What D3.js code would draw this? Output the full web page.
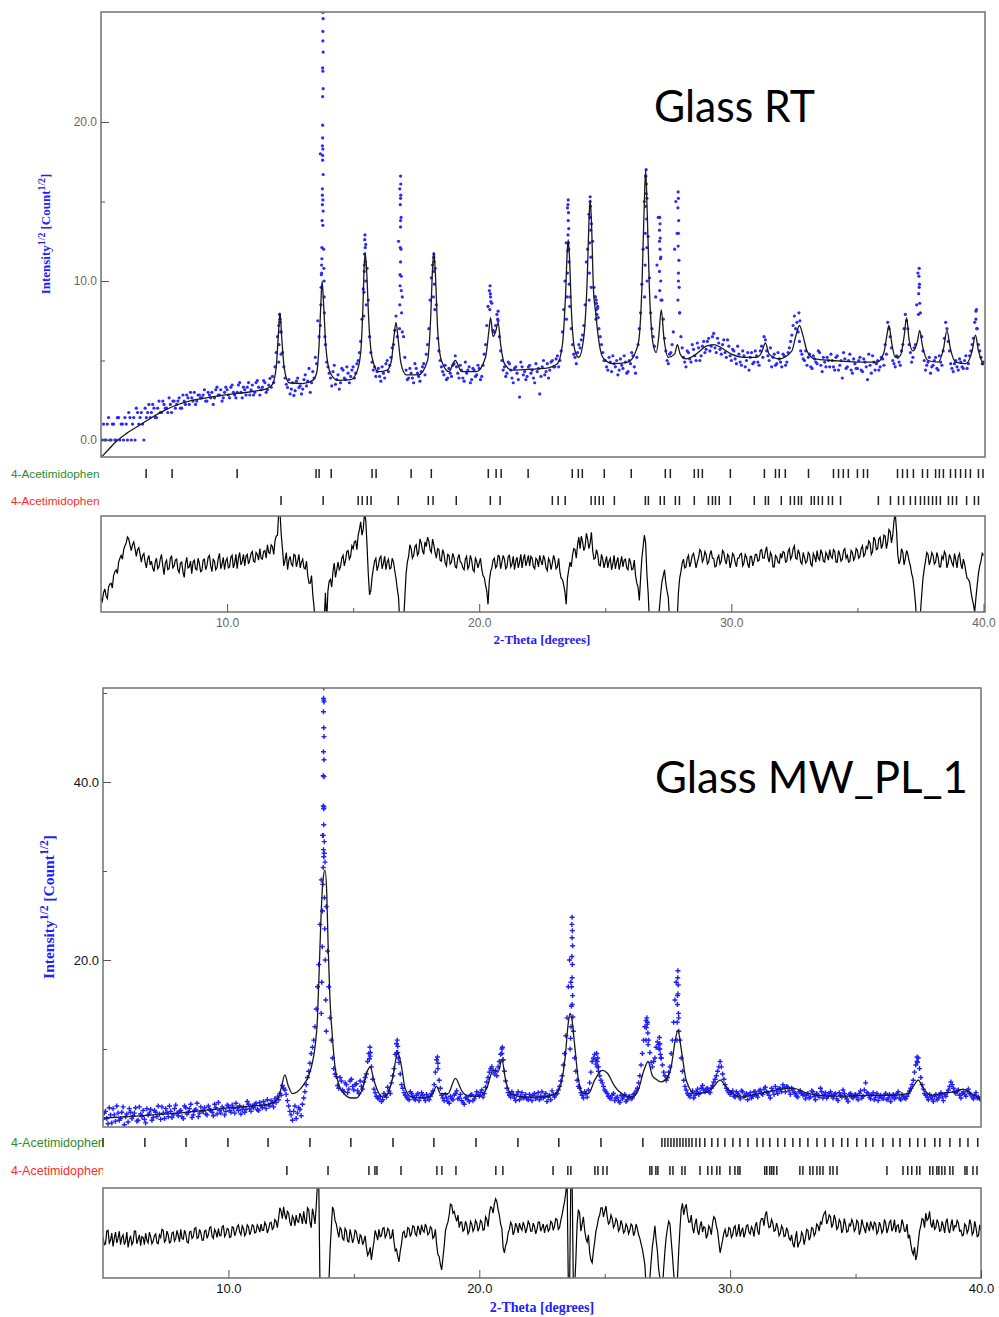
<!DOCTYPE html>
<html lang="en">
<head>
<meta charset="utf-8">
<title>Glass RT / Glass MW_PL_1 - Rietveld plots</title>
<style>
  body { margin: 0; background: #fff; }
  svg { display: block; }
</style>
</head>
<body>
<div id="chart"></div>
<script src="https://d3js.org/d3.v7.min.js"></script>
<script>
// observed patterns: first array on 5.00, 5.10 ... 40.00, second array on 5.05, 5.15 ... 39.95
var thetaStart = 5, thetaStep = 0.1, halfStep = 0.05

// ---------------- Glass RT ----------------
var obsRT = [
  0, 1, 0, 1.41, 0, 1, 0, 1.41, 1, 0,
  1, 1.73, 0, 1.41, 2, 1, 1.73, 0, 1.41, 2.24,
  1.73, 2, 1.41, 2.45, 1.73, 2.24, 2, 2.65, 1.73, 2.45,
  2.24, 2.65, 2, 2.45, 2.83, 2.24, 2.65, 3, 2.45, 2.83,
  2.65, 3.16, 2.45, 2.83, 3, 2.65, 3.32, 2.83, 2.45, 3,
  3.16, 2.65, 3.46, 2.83, 3, 3.61, 2.65, 3.16, 3.32, 2.83,
  3.46, 3, 3.74, 2.83, 3.32, 3.61, 3.16, 3.87, 4.0, 4.6,
  6.5, 7.6, 5.5, 3.9, 3.3, 2.9, 3.6, 3.1, 3.9, 3.4,
  3.2, 4.1, 3.7, 3.0, 4.3, 5.2, 7.5, 18.0, 13.5, 6.0,
  4.6, 3.9, 4.3, 3.5, 4.1, 3.6, 4.4, 3.8, 4.2, 4.0,
  4.6, 4.2, 5.0, 6.2, 9.5, 12.3, 8.8, 5.5, 4.4, 4.0,
  4.5, 3.7, 4.2, 4.8, 4.3, 5.2, 6.0, 7.8, 12.5, 14.0,
  6.5, 4.4, 3.9, 4.2, 3.6, 4.5, 4.0, 4.3, 4.8, 5.4,
  7.0, 10.2, 11.5, 8.5, 5.6, 4.6, 4.1, 3.8, 4.5, 4.0,
  4.8, 4.6, 3.9, 4.4, 3.7, 4.2, 4.6, 3.8, 4.4, 4.1,
  4.5, 4.0, 5.4, 7.2, 9.4, 8.6, 6.8, 7.9, 6.5, 5.0,
  4.6, 4.2, 4.8, 3.9, 4.5, 4.2, 2.7, 4.6, 4.3, 4.0,
  4.7, 4.4, 3.6, 4.3, 2.9, 4.6, 4.1, 4.8, 4.4, 5.0,
  4.6, 5.3, 5.0, 6.8, 10.0, 14.6, 9.0, 6.0, 5.2, 5.5,
  5.8, 6.6, 8.5, 12.0, 15.0, 12.5, 9.0, 8.4, 6.5, 5.5,
  5.0, 4.4, 4.9, 5.3, 4.6, 4.1, 5.1, 4.5, 4.9, 4.3,
  4.8, 5.3, 4.2, 6.0, 8.0, 12.0, 16.6, 12.8, 8.0, 6.5,
  9.0, 14.0, 11.5, 7.6, 5.6, 4.8, 5.5, 6.8, 15.0, 10.0,
  6.5, 5.2, 4.6, 5.5, 4.9, 5.7, 5.0, 5.8, 5.3, 6.2,
  5.7, 6.4, 5.9, 6.7, 5.5, 6.1, 5.4, 6.3, 5.2, 5.9,
  5.0, 5.6, 4.8, 5.4, 4.7, 5.3, 5.0, 4.4, 5.5, 4.9,
  5.3, 4.7, 5.9, 6.5, 5.6, 5.0, 4.6, 5.4, 4.8, 5.1,
  4.6, 5.3, 4.9, 5.8, 6.6, 7.8, 7.4, 6.2, 5.4, 5.0,
  4.7, 5.4, 4.5, 5.1, 4.8, 5.5, 4.3, 4.9, 5.2, 4.6,
  5.0, 4.4, 5.3, 4.7, 3.9, 5.1, 4.6, 5.4, 4.2, 4.8,
  4.5, 5.2, 4.3, 4.9, 3.8, 4.7, 5.3, 4.4, 5.0, 4.6,
  5.1, 6.0, 7.4, 6.5, 5.0, 4.6, 5.2, 4.7, 6.0, 7.9,
  7.0, 5.5, 5.2, 6.0, 10.5, 8.0, 5.6, 4.4, 4.9, 4.2,
  4.7, 5.2, 4.4, 4.9, 5.6, 7.4, 6.2, 4.8, 4.3, 5.0,
  4.4, 4.9, 4.5, 5.3, 4.8, 5.6, 6.4, 8.1, 6.0, 5.2,
  4.9
]
var obsRT2 = [
  0, 0, 1, 0, 1, 0, 1.41, 0, 1, 1.41,
  0, 1.41, 1, 0, 1.73, 1.41, 1, 2, 1.73, 1.41,
  2.24, 1.41, 2, 1.73, 2.45, 2, 1.73, 2.24, 2.45, 2,
  2.45, 2, 2.83, 2.24, 2.65, 3, 2.45, 2.24, 2.83, 2.65,
  2.83, 2.45, 3, 2.65, 2.24, 3.16, 2.83, 3.16, 2.65, 3.32,
  2.83, 3.32, 3, 2.65, 3.46, 3, 3.32, 2.83, 3.61, 3.16,
  2.83, 3.61, 3.32, 3.16, 3.74, 3, 3.46, 3.32, 3.61, 5.5,
  7.2, 6.8, 4.6, 3.5, 3.8, 3.2, 2.8, 3.7, 3.3, 2.9,
  3.8, 3.4, 4.5, 3.6, 3.9, 4.8, 6.5, 10.5, 9.0, 4.9,
  4.2, 3.4, 4.7, 3.8, 3.2, 4.5, 3.9, 4.6, 3.6, 4.4,
  3.9, 4.8, 5.5, 7.6, 11.0, 10.8, 6.5, 4.9, 4.6, 4.3,
  4.0, 4.6, 3.9, 5.0, 4.7, 5.8, 6.9, 6.5, 15.8, 9.0,
  5.2, 3.8, 4.5, 3.9, 4.8, 4.2, 3.7, 4.6, 4.1, 6.0,
  8.8, 11.0, 10.8, 6.4, 5.0, 4.3, 4.7, 3.9, 4.2, 4.7,
  5.3, 4.2, 4.7, 3.9, 4.9, 4.4, 3.6, 4.5, 4.0, 4.7,
  3.8, 4.7, 6.0, 8.4, 9.0, 6.9, 7.2, 7.5, 5.6, 4.4,
  4.0, 4.9, 4.4, 3.6, 4.6, 3.8, 4.9, 4.1, 3.8, 4.6,
  4.2, 3.9, 4.8, 4.5, 4.0, 5.0, 4.3, 3.9, 4.9, 4.6,
  5.1, 4.6, 5.6, 8.2, 12.4, 12.0, 7.0, 5.4, 4.8, 6.0,
  6.3, 7.2, 11.2, 14.2, 13.6, 9.6, 8.6, 7.0, 6.0, 5.0,
  4.6, 5.2, 4.3, 4.8, 5.0, 4.4, 4.7, 5.3, 4.2, 5.0,
  5.5, 4.6, 5.2, 7.0, 9.8, 15.0, 15.2, 10.2, 7.0, 5.9,
  11.0, 12.5, 8.8, 6.4, 5.0, 5.4, 6.0, 12.0, 13.0, 8.0,
  5.8, 4.9, 5.6, 5.1, 6.0, 5.3, 6.1, 5.0, 5.9, 5.5,
  6.2, 5.6, 6.5, 5.8, 6.4, 5.7, 6.0, 5.5, 6.3, 5.3,
  5.7, 5.1, 5.9, 4.9, 5.6, 4.6, 5.5, 5.2, 4.8, 5.6,
  4.9, 5.6, 5.2, 6.3, 5.3, 5.8, 5.2, 4.7, 5.5, 4.9,
  5.4, 4.7, 5.5, 6.2, 7.2, 7.0, 6.8, 5.6, 5.1, 5.6,
  5.2, 4.6, 5.3, 4.9, 5.6, 4.7, 5.2, 4.6, 5.0, 5.4,
  4.6, 5.2, 4.4, 5.0, 5.5, 4.5, 5.0, 4.4, 5.1, 4.5,
  5.0, 4.4, 5.1, 4.6, 5.4, 4.2, 4.9, 4.8, 4.4, 5.2,
  4.7, 5.4, 7.0, 5.8, 4.8, 5.3, 4.9, 5.6, 7.0, 7.5,
  6.0, 4.9, 5.8, 8.5, 9.6, 6.5, 5.0, 4.7, 5.2, 4.6,
  5.0, 4.5, 5.3, 4.7, 6.4, 7.0, 5.6, 4.5, 4.8, 4.6,
  5.1, 4.6, 5.0, 4.5, 5.3, 6.0, 7.4, 7.0, 5.6, 4.8
]

// extra observed points on the steep peak flanks [2theta, value]
var peakPtsRT = [
  [12.08, 7.9], [12.1, 7.4], [12.12, 6.8], [12.06, 6.0], [12.14, 5.4], [12.05, 4.9],
  [13.80, 26.9], [13.81, 26.5], [13.80, 25.7], [13.80, 25.1], [13.81, 24.4], [13.79, 23.4], [13.80, 23.2],
  [13.81, 22.1], [13.79, 21.6], [13.79, 19.8], [13.79, 19.0], [13.78, 18.5], [13.80, 18.3], [13.79, 17.9],
  [13.79, 17.6], [13.81, 16.7], [13.78, 15.8], [13.78, 15.4], [13.80, 15.1], [13.78, 14.8], [13.81, 14.4],
  [13.77, 13.8], [13.76, 12.1], [13.83, 12.0], [13.76, 11.4], [13.75, 11.0], [13.84, 10.8], [13.74, 10.4],
  [13.85, 10.0], [13.73, 9.6], [13.72, 8.5], [13.86, 8.0], [13.70, 7.2], [13.88, 6.5],
  [15.47, 12.9], [15.46, 12.6], [15.48, 12.1], [15.45, 11.7], [15.49, 11.2], [15.44, 10.6], [15.5, 10.0],
  [15.43, 9.3], [15.52, 8.5], [15.42, 7.8],
  [16.88, 16.6], [16.89, 16.1], [16.89, 15.4], [16.88, 15.2], [16.87, 14.8], [16.88, 13.8], [16.88, 13.4],
  [16.87, 12.1], [16.90, 12.0], [16.88, 11.2], [16.86, 10.4], [16.91, 10.3], [16.86, 9.7], [16.91, 9.4],
  [16.85, 8.5], [16.92, 8.0], [16.84, 7.0], [16.95, 6.8],
  [18.2, 11.7], [18.21, 11.2], [18.19, 10.6], [18.22, 9.8], [18.18, 9.0], [18.24, 8.2],
  [20.43, 9.7], [20.44, 9.2], [20.46, 8.7], [20.42, 8.2], [20.75, 8.1], [20.73, 7.6],
  [23.53, 15.1], [23.52, 14.8], [23.54, 14.3], [23.53, 13.8], [23.55, 13.3], [23.52, 12.9], [23.54, 12.4],
  [23.51, 11.9], [23.56, 11.2], [23.5, 10.5], [23.57, 9.8], [23.48, 9.0], [23.59, 8.4], [23.46, 7.6],
  [24.4, 15.3], [24.41, 14.7], [24.39, 14.0], [24.42, 13.2], [24.38, 12.4], [24.43, 11.5], [24.37, 10.5],
  [24.44, 9.6], [24.36, 8.8],
  [24.6, 9.0], [24.62, 8.6], [24.64, 8.8], [24.65, 8.2], [24.67, 7.9], [24.63, 7.6], [24.7, 8.3], [24.72, 7.7],
  [26.62, 17.0], [26.61, 16.6], [26.63, 16.1], [26.62, 15.5], [26.6, 14.7], [26.64, 13.9], [26.59, 13.0],
  [26.65, 12.1], [26.58, 11.0], [26.66, 10.0], [26.56, 9.0],
  [27.16, 14.0], [27.17, 13.6], [27.15, 13.2], [27.18, 12.7], [27.17, 12.0], [27.19, 11.4], [27.15, 10.6],
  [27.2, 10.0], [27.16, 9.4], [27.21, 8.8],
  [27.89, 15.6], [27.9, 15.2], [27.88, 14.6], [27.91, 13.8], [27.9, 13.0], [27.89, 12.2], [27.92, 11.3],
  [27.9, 10.5], [27.93, 9.6], [27.88, 8.8], [27.95, 8.0],
  [32.68, 8.0], [32.72, 7.5],
  [37.45, 10.8], [37.44, 10.3], [37.46, 9.8], [37.43, 9.2], [37.47, 8.6], [37.42, 7.9],
  [39.72, 8.2], [39.7, 7.6], [39.73, 7.0]
]

// calculated profile [2theta, value]
var calcRT = [
  [5.0, -1.1], [5.3, -0.6], [5.6, -0.1], [6.0, 0.4], [6.5, 0.9], [7.0, 1.4], [7.5, 1.85], [8.0, 2.2],
  [8.5, 2.45], [9.0, 2.6], [10.0, 2.85], [11.0, 3.05], [11.6, 3.25],
  [11.8, 3.5], [11.95, 4.6], [12.03, 6.5], [12.1, 8.0], [12.17, 6.4], [12.27, 4.5], [12.45, 3.6],
  [13.0, 3.55], [13.4, 3.75],
  [13.55, 4.2], [13.65, 6.0], [13.72, 8.6], [13.77, 10.0], [13.83, 8.5], [13.92, 5.8], [14.1, 4.2], [14.4, 3.75],
  [14.9, 3.8], [15.15, 4.3],
  [15.3, 5.5], [15.38, 8.0], [15.44, 11.0], [15.48, 11.8], [15.54, 10.5], [15.62, 7.5], [15.75, 5.2], [16.0, 4.3],
  [16.35, 4.4],
  [16.52, 5.0], [16.62, 6.5], [16.7, 7.4], [16.78, 6.4], [16.9, 4.8], [17.1, 4.1],
  [17.6, 4.1],
  [17.95, 5.0], [18.07, 7.5], [18.15, 10.8], [18.2, 11.8], [18.26, 10.5], [18.35, 7.0], [18.5, 5.0], [18.8, 4.3],
  [19.05, 5.0], [19.3, 4.3], [19.9, 4.3],
  [20.25, 5.2], [20.38, 6.8], [20.45, 7.7], [20.55, 6.5], [20.65, 6.8], [20.75, 7.4], [20.85, 6.0], [21.0, 4.8],
  [21.3, 4.4], [22.0, 4.45], [22.6, 4.5], [23.1, 4.8],
  [23.3, 6.0], [23.42, 9.0], [23.49, 11.8], [23.53, 12.6], [23.58, 11.5], [23.66, 8.0], [23.8, 5.6], [23.95, 5.2],
  [24.15, 6.5], [24.28, 10.0], [24.36, 14.0], [24.4, 15.1], [24.45, 13.8], [24.53, 9.5], [24.62, 8.0],
  [24.72, 6.5], [24.9, 5.2], [25.3, 4.8], [25.9, 4.9],
  [26.3, 6.0], [26.45, 9.5], [26.54, 14.5], [26.6, 17.0], [26.66, 14.5], [26.75, 9.5], [26.9, 6.0], [27.02, 5.5],
  [27.12, 6.5], [27.22, 8.2], [27.32, 6.5], [27.5, 5.2],
  [27.75, 5.4], [27.86, 6.0], [27.97, 5.4], [28.2, 5.1],
  [28.6, 5.4], [29.0, 5.9], [29.3, 6.0], [29.6, 5.8], [30.0, 5.4], [30.5, 5.2], [31.0, 5.2],
  [31.2, 5.5], [31.35, 6.1], [31.5, 5.4], [31.9, 5.1],
  [32.4, 5.6], [32.55, 6.5], [32.7, 7.2], [32.85, 6.5], [33.0, 5.6], [33.3, 5.1],
  [34.0, 5.0], [35.0, 4.9], [35.8, 4.9],
  [36.05, 5.5], [36.17, 6.6], [36.25, 7.2], [36.35, 6.2], [36.5, 5.2], [36.7, 5.3],
  [36.85, 6.5], [36.95, 7.7], [37.05, 6.3], [37.2, 5.6],
  [37.38, 6.2], [37.47, 6.9], [37.57, 6.0], [37.8, 5.0], [38.2, 4.9],
  [38.42, 5.8], [38.55, 6.9], [38.68, 5.8], [38.9, 4.9], [39.3, 4.8],
  [39.55, 5.6], [39.68, 6.6], [39.8, 5.6], [40.0, 4.7]
]

// difference curve, same two 2theta grids as the observed arrays
var diffRT = [
  -3.6, -3.0, -3.3, -2.4, -2.0, -1.2, -0.6, 0.2, 0.9, 1.5,
  2.2, 2.6, 1.4, 2.3, 0.8, 1.7, 0.2, 1.1, -0.4, 0.9,
  0.3, -0.8, 0.6, -0.3, 1.0, -1.1, 0.4, -0.5, 0.8, -0.2,
  0.5, -0.9, 0.2, -1.4, 0.7, -0.3, -1.0, 0.4, -0.6, 0.1,
  -0.7, 0.5, -0.2, 0.9, -0.8, 0.3, -0.4, 1.1, 0.0, -0.6,
  0.6, -0.3, 0.9, 0.1, -0.5, 1.2, 0.3, -0.2, 1.0, 0.4,
  1.3, 0.2, 1.0, 1.6, 0.5, 1.4, 2.0, 1.1, 1.8, 2.4,
  3.0, 5.3, 1.5, 0.4, -0.6, 0.8, -0.2, 0.9, 0.3, -0.4,
  0.5, -0.5, -1.2, -2.0, -3.2, -6.0, -6.0, -6.0, -6.0, -3.0,
  -2.8, -1.6, -0.8, -1.4, 0.2, -0.3, 0.9, 0.4, 1.4, 0.8,
  1.6, 2.4, 3.0, 4.4, 3.6, 4.6, -1.0, -2.8, -0.5, 0.6,
  -0.2, 0.8, 0.1, -0.6, 0.5, -0.4, 0.2, -1.5, -3.5, -6.0,
  -6.0, -1.0, 0.8, 1.6, 0.9, 2.0, 1.2, 2.2, 1.0, 1.8,
  2.4, 1.2, 2.0, 0.6, 1.5, 0.3, 1.1, -0.2, 0.9, 0.2,
  0.7, -0.4, 1.0, 0.1, -0.6, 0.8, -0.2, 0.4, -0.8, 0.3,
  0.1, -0.5, -1.4, -2.8, -1.8, -0.4, 0.6, -0.2, 0.8, 0.2,
  0.5, -0.3, 0.9, 0.0, -0.6, 0.7, 0.2, -0.4, 1.0, 0.3,
  -0.2, 0.6, -0.5, 0.4, 0.9, -0.1, 0.5, -0.7, 0.3, 0.1,
  0.4, -0.3, -0.8, -1.6, -2.9, -1.5, 0.2, 0.9, 1.5, 2.0,
  1.6, 2.3, 1.8, 2.6, 2.2, 1.4, 0.6, 1.0, -0.2, 0.5,
  0.2, -0.4, 0.6, 0.0, -0.5, 0.7, 0.1, -0.3, 0.5, -0.6,
  0.2, -0.5, -1.2, -2.4, -1.5, 1.8, 2.2, -3.0, -6.0, -6.0,
  -6.0, -6.0, -3.0, -1.2, -2.0, -3.5, -6.0, -6.0, -6.0, -3.0,
  -0.8, 0.5, -0.3, 0.9, 0.2, 1.1, -0.4, 0.7, 1.3, 0.5,
  1.0, 0.2, 1.4, 0.6, -0.2, 0.9, 0.3, 1.2, 0.0, 0.8,
  0.2, 0.9, -0.3, 0.6, 1.1, 0.1, 0.7, -0.4, 0.8, 0.3,
  1.0, 0.4, 1.5, 0.6, 1.8, 0.2, 0.9, -0.3, 0.7, 0.1,
  0.6, 1.2, 0.3, 1.6, 0.8, 1.9, 0.5, 1.1, 0.0, 0.7,
  0.3, 1.0, -0.2, 0.8, 1.4, 0.4, 1.1, 0.2, 0.9, 1.5,
  0.6, 1.3, 0.2, 1.0, 0.5, 1.6, 0.9, 0.3, 1.2, 0.7,
  1.4, 0.8, 1.9, 1.0, 1.6, 2.2, 1.3, 2.5, 1.6, 2.8,
  2.0, 2.9, 2.3, 3.4, 3.0, 5.3, 1.0, 0.4, 1.2, 0.6,
  1.0, -0.2, -1.5, -4.0, -6.0, -5.0, -1.5, 0.3, 1.0, 0.4,
  0.9, 0.2, 0.7, -0.3, 0.5, 1.0, 0.1, 0.6, -0.2, 0.4,
  0.8, 0.0, 0.5, -0.8, -1.6, -2.8, -4.2, -3.5, -1.0, 0.3,
  0.9
]
var diffRT2 = [
  -3.9, -2.6, -3.6, -2.1, -2.5, -0.8, -1.0, 0.6, 0.5, 1.9,
  2.8, 2.0, 2.0, 1.6, 1.5, 1.0, 0.9, 0.2, 0.5, -0.1,
  -0.4, 0.2, -0.5, 0.5, -0.2, 0.1, -0.6, 0.6, -0.4, 0.4,
  -0.6, 0.1, -0.8, 0.0, -0.4, 0.3, 0.2, -0.5, 0.6, -0.8,
  0.4, -0.6, 0.7, -0.2, 0.5, -0.6, 0.6, -0.5, 0.7, 0.3,
  -0.4, 0.7, -0.4, 1.0, 0.6, -0.1, 1.0, 0.8, 0.0, 1.1,
  0.3, 1.2, 0.4, 0.6, 1.3, 0.6, 1.2, 2.0, 1.0, 2.9,
  5.5, 3.0, -0.2, 1.2, 0.4, 0.0, 1.0, -0.3, 1.0, 0.2,
  -0.4, 0.3, -2.0, -1.2, -4.5, -6.0, -6.0, -6.0, -6.0, -6.0,
  -1.8, -2.4, 0.1, -0.6, -0.6, 0.6, -0.2, 1.3, 0.5, 1.9,
  2.3, 1.5, 3.6, 3.0, 5.3, 2.0, -3.2, -1.4, 0.3, -0.7,
  0.6, -0.5, 0.8, 0.2, -0.5, 0.6, -0.7, -2.6, -6.0, -6.0,
  -3.5, 0.2, 2.0, 0.6, 1.8, 0.9, 2.6, 1.4, 2.3, 2.8,
  1.5, 2.6, 1.2, 1.6, 0.4, 1.5, 0.1, 1.0, 0.0, 1.1,
  -0.3, 0.6, 0.2, -0.4, 0.5, -0.5, 0.9, -0.6, 0.6, -0.4,
  0.6, -1.2, -2.2, -4.2, -0.8, 0.4, -0.4, 0.9, -0.5, 0.9,
  -0.5, 0.8, -0.3, 0.8, 0.3, -0.4, 1.0, 0.5, -0.2, 0.9,
  0.8, -0.3, 0.6, -0.3, 0.3, 0.9, -0.4, 0.6, -0.6, 0.9,
  -0.5, 0.6, -1.5, -2.2, -4.2, -0.6, -0.3, 1.6, 0.6, 2.8,
  2.9, 1.4, 3.2, 1.6, 3.3, 0.5, 1.5, -0.1, 1.0, -0.4,
  0.8, 0.3, -0.6, 0.9, 0.2, -0.6, 0.8, 0.4, -0.4, 0.6,
  -0.6, 0.4, -2.0, -3.8, 0.6, 3.0, -1.0, -6.0, -6.0, -6.0,
  -6.0, -4.5, -1.8, -0.6, -2.8, -6.0, -6.0, -6.0, -6.0, -1.5,
  0.1, -0.4, 0.6, -0.3, 0.9, 0.4, 0.2, 1.5, 0.2, 1.3,
  0.0, 1.0, 0.6, -0.3, 0.6, 0.0, 1.4, 0.4, 1.0, -0.4,
  1.1, 0.2, 0.6, 1.0, -0.2, 1.0, 0.0, 0.8, -0.2, 1.0,
  0.3, 1.4, 0.6, 1.3, 0.7, 1.2, -0.3, 0.9, 0.2, 1.1,
  1.3, 0.2, 1.3, 0.5, 1.6, 0.6, 1.5, 0.2, 1.2, 0.1,
  1.2, 0.0, 1.1, 0.2, 0.6, 1.5, 0.3, 1.2, 0.4, 0.8,
  1.5, 0.2, 1.4, 0.3, 1.4, 0.6, 0.2, 1.4, 0.4, 1.6,
  0.6, 1.6, 0.8, 1.8, 2.4, 1.0, 2.8, 1.5, 2.6, 1.6,
  3.0, 1.6, 3.6, 2.2, 4.5, 3.5, 0.0, 1.6, -0.1, 1.4,
  0.3, -1.0, -2.6, -6.0, -6.0, -3.2, -0.5, 1.2, -0.1, 1.2,
  0.0, 1.2, -0.3, 0.8, 1.3, -0.4, 1.0, 0.1, 1.1, -0.4,
  1.1, -0.5, 0.0, -1.5, -1.9, -3.6, -5.0, -2.2, -0.2, 1.1
]

// reflection positions of the two phases
var phaseGreenRT = [6.79, 7.82, 10.40, 13.53, 13.65, 14.13, 15.75, 15.91, 17.30, 18.10, 20.36, 20.67, 20.87,
  21.94, 23.69, 23.93, 24.09, 24.96, 26.03, 27.38, 27.58, 28.53, 28.69, 28.85, 29.96, 31.31, 31.75, 31.90,
  32.14, 33.06, 34.05, 34.25, 34.44, 34.64, 35.00, 35.24, 35.40, 36.59, 36.79, 36.98, 37.22, 37.58, 37.78,
  38.10, 38.25, 38.41, 38.69, 38.89, 39.09, 39.29, 39.48, 39.80, 39.98]
var phaseRedRT = [12.14, 13.81, 15.20, 15.36, 15.56, 15.71, 16.79, 17.98, 18.17, 19.09, 20.44, 20.83, 22.90,
  23.13, 23.41, 24.44, 24.60, 24.76, 24.92, 25.36, 26.59, 26.71, 27.18, 27.34, 27.78, 27.94, 28.53, 29.09,
  29.25, 29.37, 29.52, 29.96, 30.91, 31.35, 31.47, 31.98, 32.34, 32.50, 32.66, 32.78, 33.17, 33.29, 33.45,
  33.61, 33.85, 34.01, 34.33, 35.83, 36.31, 36.63, 36.83, 37.10, 37.30, 37.50, 37.66, 37.82, 37.98, 38.13,
  38.29, 38.61, 38.77, 38.93, 39.33, 39.64, 39.80]

// ---------------- Glass MW_PL_1 ----------------
var obsMW = [
  2.1, 3.0, 1.6, 2.6, 3.3, 1.9, 2.8, 2.2, 3.5, 2.4,
  1.8, 2.9, 2.5, 3.4, 2.0, 2.7, 3.1, 1.7, 2.6, 3.2,
  2.3, 2.9, 3.6, 2.1, 2.8, 3.3, 2.4, 3.0, 2.6, 3.7,
  2.5, 3.1, 2.2, 3.4, 2.9, 3.8, 2.6, 3.2, 2.4, 3.5,
  3.0, 2.7, 3.6, 3.1, 2.5, 3.4, 4.0, 2.8, 3.3, 3.0,
  3.6, 2.9, 3.3, 3.9, 3.1, 2.7, 3.5, 3.2, 3.8, 3.0,
  3.4, 3.9, 3.1, 3.6, 4.1, 3.3, 3.7, 4.2, 3.5, 4.0,
  4.3, 4.8, 5.6, 4.9, 3.6, 2.6, 3.0, 2.2, 3.4, 2.5,
  4.5, 6.0, 7.5, 9.5, 11.0, 14.5, 19.5, 29.0, 37.0, 26.0,
  17.0, 11.0, 7.8, 6.9, 5.6, 6.4, 5.2, 6.0, 5.5, 6.6,
  5.4, 6.1, 5.0, 5.8, 6.3, 7.2, 9.5, 8.0, 5.5, 4.7,
  4.4, 4.1, 5.0, 4.6, 5.3, 6.2, 7.8, 10.6, 8.5, 6.0,
  5.1, 4.6, 4.3, 5.0, 4.4, 4.8, 4.2, 5.1, 4.5, 4.9,
  4.3, 5.0, 6.0, 8.8, 6.5, 4.8, 4.2, 4.5, 3.9, 4.4,
  4.8, 5.3, 4.5, 4.2, 3.8, 4.6, 4.1, 4.9, 4.4, 5.2,
  4.7, 5.4, 5.0, 6.3, 7.4, 8.0, 7.2, 7.0, 8.6, 10.0,
  7.5, 5.6, 4.8, 5.2, 4.5, 4.9, 4.3, 5.1, 4.6, 4.4,
  4.9, 4.2, 5.0, 4.6, 4.3, 5.2, 4.7, 4.1, 4.8, 5.3,
  4.6, 5.0, 5.8, 7.0, 9.5, 13.5, 20.0, 15.0, 9.0, 6.5,
  5.6, 4.8, 5.2, 4.6, 6.2, 8.6, 9.4, 8.0, 7.0, 6.2,
  5.4, 5.0, 4.5, 4.8, 4.2, 4.6, 4.0, 4.4, 4.9, 4.3,
  4.7, 4.5, 5.0, 5.6, 7.0, 9.5, 12.5, 12.8, 9.6, 8.0,
  9.0, 10.8, 10.0, 8.2, 7.0, 6.8, 8.0, 11.0, 15.5, 16.0,
  11.0, 7.5, 5.8, 5.0, 4.6, 5.3, 4.8, 5.5, 5.1, 5.9,
  5.2, 5.6, 5.1, 5.9, 6.6, 7.5, 8.6, 7.2, 6.0, 5.3,
  4.9, 5.3, 4.6, 5.0, 4.4, 5.2, 4.8, 4.3, 5.1, 4.7,
  5.2, 4.6, 5.4, 4.9, 5.7, 5.1, 4.5, 5.3, 5.8, 5.0,
  5.5, 6.0, 5.2, 5.7, 4.9, 5.4, 5.0, 4.6, 5.3, 4.8,
  4.4, 5.0, 4.6, 5.2, 4.3, 4.8, 5.6, 4.5, 5.1, 4.7,
  5.2, 4.5, 5.0, 4.2, 4.8, 5.4, 4.6, 4.1, 5.0, 4.5,
  4.9, 4.3, 5.3, 4.7, 6.2, 5.0, 4.4, 5.1, 4.6, 4.2,
  4.8, 4.4, 5.0, 4.5, 4.1, 4.9, 4.6, 5.2, 4.3, 4.7,
  4.4, 5.0, 5.6, 6.5, 8.2, 9.0, 6.8, 5.5, 4.8, 4.3,
  4.6, 4.1, 4.9, 4.5, 5.1, 4.2, 4.7, 5.4, 6.3, 5.6,
  5.0, 5.4, 4.5, 5.2, 4.7, 5.5, 4.9, 4.4, 5.1, 4.6,
  4.3
]
var obsMW2 = [
  2.8, 2.2, 3.4, 1.7, 2.6, 3.6, 2.0, 2.9, 1.5, 2.7,
  3.3, 2.2, 2.8, 1.9, 3.5, 2.4, 2.1, 3.3, 2.8, 2.0,
  3.1, 2.4, 2.7, 3.5, 2.2, 2.9, 3.6, 2.3, 3.3, 2.8,
  3.0, 2.4, 3.6, 2.7, 3.3, 2.3, 3.1, 3.9, 2.8, 3.0,
  3.4, 2.6, 3.2, 2.9, 3.8, 2.7, 3.1, 3.5, 2.6, 3.7,
  3.1, 3.7, 2.8, 3.4, 3.6, 3.2, 2.9, 4.1, 3.3, 3.6,
  3.8, 3.2, 4.0, 3.4, 3.7, 4.3, 3.6, 3.9, 4.4, 4.6,
  5.0, 5.9, 5.4, 4.2, 3.0, 2.0, 3.6, 2.8, 3.2, 3.8,
  5.2, 6.8, 8.4, 10.2, 12.5, 17.0, 24.0, 34.0, 31.0, 21.0,
  13.5, 9.0, 7.2, 5.9, 6.8, 5.4, 6.2, 5.1, 6.4, 5.8,
  6.0, 5.3, 6.4, 5.5, 6.8, 8.6, 9.2, 6.6, 5.1, 4.5,
  4.7, 4.3, 4.8, 5.7, 5.0, 7.0, 9.4, 9.6, 7.2, 5.6,
  4.8, 4.4, 5.2, 4.7, 4.3, 5.0, 4.6, 4.8, 4.2, 4.6,
  4.7, 5.3, 7.4, 7.8, 5.6, 4.5, 4.9, 4.1, 4.7, 4.3,
  5.0, 4.4, 4.9, 4.0, 4.5, 4.3, 4.8, 4.2, 4.7, 4.9,
  5.1, 4.6, 5.7, 6.8, 7.8, 7.6, 7.6, 8.0, 9.4, 8.8,
  6.4, 5.1, 4.6, 4.9, 4.2, 5.2, 4.7, 4.5, 4.9, 4.3,
  4.6, 4.8, 4.4, 5.1, 4.7, 4.5, 5.0, 4.6, 4.3, 4.9,
  4.9, 5.4, 6.4, 8.2, 11.5, 17.0, 17.5, 12.0, 7.5, 5.8,
  5.1, 4.5, 5.0, 5.4, 7.4, 9.0, 8.8, 7.5, 6.5, 5.8,
  5.2, 4.7, 4.4, 5.0, 4.5, 4.2, 4.8, 4.6, 4.1, 4.6,
  4.4, 4.9, 5.3, 6.2, 8.2, 11.0, 13.2, 11.0, 8.5, 8.6,
  10.2, 10.5, 9.0, 7.4, 6.5, 7.4, 9.5, 13.0, 17.5, 13.5,
  9.0, 6.5, 5.4, 4.8, 5.0, 4.5, 5.2, 4.9, 5.6, 5.4,
  5.5, 5.2, 5.6, 6.3, 7.0, 8.0, 8.0, 6.6, 5.6, 5.1,
  5.1, 4.7, 5.2, 4.8, 5.3, 4.6, 5.0, 4.9, 4.5, 5.2,
  4.8, 5.3, 5.0, 5.5, 5.2, 4.8, 5.6, 4.9, 5.3, 5.6,
  5.2, 5.7, 5.8, 5.3, 5.6, 5.1, 4.7, 5.2, 5.0, 4.9,
  4.8, 4.5, 5.3, 4.7, 5.0, 4.6, 5.2, 4.9, 4.5, 5.0,
  4.8, 4.9, 4.4, 5.1, 4.6, 5.0, 4.4, 4.9, 4.6, 4.8,
  4.6, 5.0, 4.5, 5.4, 5.1, 4.6, 4.9, 4.3, 5.0, 4.6,
  4.5, 4.8, 4.3, 4.9, 4.6, 4.4, 5.0, 4.5, 4.9, 4.5,
  4.7, 5.3, 6.0, 7.4, 8.6, 7.8, 6.0, 5.0, 4.6, 4.9,
  4.4, 4.7, 4.3, 4.8, 4.6, 4.9, 5.1, 5.8, 6.0, 5.2,
  5.3, 4.8, 5.0, 4.9, 5.3, 5.0, 4.6, 4.8, 4.5, 4.4
]

var peakPtsMW = [
  [13.8, 50.6], [13.79, 49.4], [13.8, 49.2], [13.81, 49.0], [13.79, 47.9], [13.8, 46.1], [13.81, 45.1],
  [13.79, 43.4], [13.81, 42.5], [13.78, 40.7], [13.81, 40.6], [13.78, 37.3], [13.81, 37.2], [13.8, 35.2],
  [13.78, 34.0], [13.82, 33.3], [13.79, 32.4], [13.82, 32.0], [13.8, 31.6], [13.78, 30.4], [13.76, 28.5],
  [13.83, 27.0], [13.75, 25.5], [13.84, 23.5], [13.74, 21.5], [13.86, 20.0], [13.72, 17.5], [13.88, 15.5],
  [13.7, 14.0], [13.9, 12.0],
  [15.64, 10.2], [15.66, 9.6], [15.62, 8.9],
  [16.73, 11.0], [16.75, 10.3], [16.71, 9.6], [16.77, 9.0],
  [18.33, 9.1], [18.35, 8.4],
  [20.92, 10.2], [20.9, 9.5], [20.94, 8.8],
  [23.7, 24.8], [23.69, 24.0], [23.71, 23.3], [23.7, 22.5], [23.72, 21.6], [23.69, 20.4], [23.71, 19.5],
  [23.7, 18.0], [23.68, 17.0], [23.72, 16.0], [23.67, 14.8], [23.73, 13.6], [23.66, 12.5], [23.64, 11.2],
  [23.62, 10.0],
  [24.68, 9.5], [24.72, 9.0], [24.7, 8.6], [24.75, 8.0], [24.65, 8.3],
  [26.68, 13.5], [26.7, 13.0], [26.66, 12.4], [26.72, 11.8], [26.65, 11.0], [26.73, 10.5],
  [27.18, 11.3], [27.2, 10.6], [27.16, 10.0], [27.22, 9.4], [27.25, 9.0],
  [27.92, 18.8], [27.91, 18.0], [27.93, 17.2], [27.92, 16.2], [27.9, 15.0], [27.94, 14.0], [27.89, 13.0],
  [27.95, 12.0], [27.88, 11.0],
  [37.45, 9.1], [37.47, 8.5]
]

var calcMW = [
  [5.0, 2.25], [6.0, 2.4], [7.0, 2.6], [8.0, 2.8], [9.0, 3.1], [10.0, 3.4], [11.0, 3.6], [11.7, 3.9],
  [12.0, 4.6], [12.12, 5.8], [12.25, 7.1], [12.38, 5.9], [12.55, 5.0], [12.75, 5.2], [13.0, 6.0],
  [13.2, 7.0], [13.35, 8.5], [13.45, 10.2], [13.55, 13.5], [13.62, 19.0], [13.7, 25.5], [13.77, 29.0],
  [13.85, 30.1], [13.92, 27.5], [13.98, 21.0], [14.05, 15.5], [14.14, 11.5], [14.25, 8.0], [14.4, 6.0],
  [14.6, 5.0], [14.9, 4.5], [15.1, 4.5], [15.35, 5.6], [15.55, 7.6], [15.65, 8.0], [15.8, 6.5], [16.0, 5.0],
  [16.15, 4.6], [16.35, 5.0], [16.55, 6.8], [16.75, 9.6], [16.9, 8.0], [17.05, 5.5], [17.3, 4.6],
  [17.8, 4.5], [18.1, 4.8], [18.3, 5.8], [18.45, 5.0], [18.75, 5.0], [19.05, 6.7], [19.3, 5.3], [19.6, 4.7],
  [20.0, 4.7], [20.3, 5.6], [20.55, 7.6], [20.75, 7.4], [20.9, 8.8], [21.05, 6.5], [21.3, 4.9], [21.8, 4.6],
  [22.5, 4.6], [23.0, 4.9], [23.25, 6.0], [23.42, 9.0], [23.55, 13.0], [23.62, 14.0], [23.7, 13.2],
  [23.8, 10.5], [23.95, 6.6], [24.15, 5.0], [24.35, 5.0], [24.6, 6.5], [24.9, 7.6], [25.1, 7.3], [25.4, 5.8],
  [25.8, 4.8], [26.1, 4.6], [26.35, 5.5], [26.55, 7.5], [26.73, 8.6], [26.9, 7.0], [27.05, 6.6],
  [27.25, 6.3], [27.45, 6.6], [27.65, 8.0], [27.8, 10.8], [27.92, 12.1], [28.05, 10.0], [28.25, 6.5],
  [28.6, 5.0], [29.0, 5.1], [29.35, 5.8], [29.6, 6.5], [29.85, 5.7], [30.4, 4.6], [31.0, 4.9], [31.5, 5.2],
  [32.0, 5.5], [32.5, 5.6], [33.0, 5.1], [33.5, 4.8], [34.5, 4.7], [35.5, 4.8], [36.5, 4.8], [37.1, 5.0],
  [37.3, 5.8], [37.5, 6.5], [37.7, 5.6], [38.0, 4.8], [38.6, 5.1], [39.0, 5.2], [39.3, 5.5], [39.6, 5.0],
  [40.0, 4.4]
]

var diffMW = [
  -0.4, -1.2, 0.3, -0.8, -1.5, 0.1, -0.6, -1.3, -0.2, -0.9,
  -1.6, -0.3, -1.0, 0.2, -0.7, -1.4, -0.5, 0.0, -1.1, -0.4,
  -0.9, -0.1, -1.2, -0.5, 0.3, -0.8, -0.2, -1.0, 0.1, -0.6,
  -0.3, 0.4, -0.7, -0.1, -1.1, 0.2, -0.4, 0.6, -0.5, 0.0,
  -0.8, 0.3, -0.2, 0.7, -0.6, 0.1, 0.5, -0.3, 0.8, -0.1,
  0.4, -0.4, 0.6, 0.1, 0.9, -0.2, 0.5, 0.0, 0.7, 0.2,
  0.8, 0.1, 0.6, 1.0, 0.3, 0.9, 0.4, 1.2, 0.6, 1.3,
  1.6, 2.4, 2.9, 1.5, 2.2, 0.8, 1.6, 2.0, 1.2, 1.8,
  2.4, 1.0, 2.6, 0.6, 2.0, 3.0, 6.0, -6.0, -6.0, -6.0,
  -6.0, 0.5, 2.5, 1.0, -0.5, 0.4, -0.8, 0.2, -1.0, -0.3,
  -0.6, 0.1, -1.2, -0.4, -0.9, -1.6, -2.2, -3.0, -1.0, -0.2,
  0.4, -0.3, 0.6, -0.2, 0.3, -0.5, -1.0, -1.8, -3.2, -1.2,
  0.2, -0.4, 0.5, 0.0, 0.7, -0.3, 0.4, 0.9, 0.1, 0.6,
  0.0, 0.5, -0.4, -1.3, -2.6, -4.1, -1.5, 0.8, 2.0, 3.1,
  2.4, 1.3, 0.6, 1.2, 0.4, 0.9, 0.2, 1.0, 0.5, 1.1,
  0.6, 1.2, 0.4, 1.5, 2.1, 2.8, 3.2, 3.5, 2.0, 0.5,
  -2.2, -1.0, 0.4, 0.9, 0.2, 0.7, 1.1, 0.3, 0.8, 0.5,
  1.0, 0.2, 0.7, 0.4, 1.2, 0.6, 0.0, 0.9, 0.4, 1.1,
  0.8, 1.5, 0.6, 2.0, 3.5, 6.0, -6.0, 6.0, -6.0, 1.0,
  2.2, 1.0, 0.3, -1.0, -2.2, -3.3, -1.0, 0.8, 2.0, 2.8,
  2.4, 1.8, 1.2, 1.6, 0.9, 1.3, 0.5, 0.9, 0.2, 0.7,
  0.3, 0.8, 0.1, 0.5, -0.6, -1.8, -3.5, -6.0, -5.0, -1.5,
  0.8, -2.0, -5.0, -6.0, -2.0, 0.5, 1.0, -2.5, -6.0, -5.0,
  0.5, 3.3, 2.8, 2.0, 1.2, 0.6, 1.0, 0.3, 0.8, 0.1,
  0.6, -0.2, 0.5, 1.1, 1.6, 0.2, -2.2, -0.8, 0.4, -0.3,
  0.5, -0.2, 0.8, 0.1, -0.4, 0.6, 0.0, 0.9, -0.1, 0.4,
  0.8, 0.2, 1.2, 1.6, 2.0, 1.3, 0.7, 1.1, 0.3, 0.6,
  0.0, 0.5, -0.3, 0.2, -0.8, -1.2, -0.6, -1.6, -0.9, -0.2,
  -0.6, 0.3, -0.4, 0.5, 0.0, 0.8, 1.2, 1.8, 2.4, 1.4,
  1.8, 1.0, 1.5, 0.6, 1.2, 0.4, 1.0, 0.2, 0.8, 1.1,
  0.5, 1.2, 0.3, 0.9, 0.0, 0.7, 1.3, 0.4, 1.0, 0.2,
  0.8, 0.3, 1.1, 0.5, 1.4, 0.6, 0.1, 0.9, 0.4, 1.0,
  0.2, -0.6, -1.2, -2.4, -3.0, -1.0, 0.8, 1.5, 2.2, 1.6,
  1.0, 1.5, 0.6, 1.1, 0.3, 0.8, 1.2, 0.4, 0.9, 0.2,
  0.7, 1.1, 0.3, -0.2, 0.8, 0.4, 1.0, 0.1, 0.6, -0.3,
  0.3
]
var diffMW2 = [
  -1.3, 0.2, -1.1, 0.0, -0.6, -1.1, 0.2, -0.5, -1.3, 0.1,
  -0.8, -1.3, 0.2, -1.2, -0.2, -0.4, -1.3, -0.8, 0.1, -1.2,
  -0.3, -1.1, -0.2, 0.4, -1.0, 0.2, -1.1, 0.0, -0.9, 0.3,
  -1.0, -0.6, 0.3, -1.0, 0.1, -0.6, 0.5, -0.6, 0.4, -0.8,
  0.2, -0.6, 0.6, -0.4, 0.4, -0.5, -0.3, 0.7, -0.4, 0.5,
  -0.5, 0.7, -0.3, 0.7, 0.1, 0.8, -0.3, 0.9, -0.2, 0.9,
  0.0, 0.9, 0.1, 0.3, 1.2, 0.0, 1.1, 0.4, 1.5, 0.6,
  2.8, 1.6, 2.0, 2.4, 1.2, 1.9, 0.8, 1.3, 2.2, 1.0,
  1.4, 2.8, 1.2, 2.7, 1.0, 5.5, -6.0, -6.0, -6.0, -6.0,
  -2.0, 2.9, 1.4, 0.2, 0.6, -0.6, 0.5, -0.9, 0.4, -1.1,
  0.3, -0.7, -0.2, -1.3, -0.3, -2.5, -1.6, -1.9, 0.3, -0.8,
  -0.4, 0.5, -0.5, 0.5, -0.6, 0.4, -2.0, -2.6, -2.0, 0.0,
  -0.5, 0.6, -0.4, 0.8, -0.1, 0.8, -0.2, 0.3, 1.0, -0.2,
  0.7, -0.6, 0.4, -2.4, -3.5, -2.8, 0.2, 1.2, 3.2, 2.2,
  1.8, 2.0, 1.2, 0.2, 1.3, -0.1, 1.3, 0.2, 1.4, 0.2,
  1.4, 0.3, 1.8, 0.7, 2.9, 2.2, 3.8, 2.6, 1.0, -1.6,
  -1.4, 0.0, 1.2, -0.2, 1.1, 0.0, 0.6, 1.2, 0.0, 1.3,
  0.2, 1.1, -0.1, 1.2, 0.2, 1.0, 0.7, 0.2, 1.3, 0.3,
  1.6, 0.4, 1.4, 2.8, 4.5, -6.0, 6.0, -6.0, -3.0, 2.6,
  0.2, 1.8, -0.6, -0.2, -3.0, -2.0, 0.2, 1.6, 2.8, 1.8,
  3.0, 1.0, 2.0, 0.6, 1.6, 0.2, 1.4, 0.0, 1.0, -0.1,
  1.0, -0.3, 1.0, -0.2, -1.2, -2.6, -6.0, -6.0, -3.2, -0.5,
  -0.8, -4.0, -6.0, -4.0, -0.5, 1.3, -0.8, -4.5, -6.0, -2.0,
  2.6, 2.0, 3.2, 1.2, 2.0, 0.0, 1.6, -0.2, 1.3, 0.7,
  -0.6, 0.8, -0.2, 1.8, 0.8, -1.0, -1.5, 0.0, -0.4, 0.6,
  -0.5, 0.6, -0.4, 1.0, 0.2, -0.5, 0.8, 0.1, 0.7, -0.4,
  1.2, -0.2, 1.6, 0.8, 2.4, 0.6, 1.5, 0.2, 1.1, -0.3,
  0.8, -0.4, 0.6, -0.6, -0.2, -1.6, 0.2, -1.1, 0.1, -1.3,
  0.4, -0.8, 0.6, -0.3, 1.0, 0.2, 1.0, 2.2, 1.0, 2.0,
  0.6, 2.0, 0.4, 1.5, 0.0, 1.6, 0.1, 1.0, 1.5, 0.2,
  1.4, -0.2, 1.5, 0.5, 1.2, 0.2, 0.8, 1.2, -0.1, 1.2,
  0.0, 1.5, 0.0, 1.2, 0.2, 1.5, 0.8, 0.0, 1.5, 0.2,
  1.0, -0.2, -2.0, -1.6, -2.4, 0.2, 1.6, 0.6, 1.4, 2.4,
  0.6, 0.4, 1.5, 0.2, 1.3, 0.0, 1.6, 0.0, 1.5, 0.8,
  1.4, 0.2, -0.3, 1.0, 0.0, 1.5, -0.2, 1.3, -0.4, 0.9
]

var phaseGreenMW = [5.0, 6.67, 8.31, 9.98, 11.58, 13.25, 14.88, 16.56, 18.19, 19.87, 21.54, 23.17, 24.85,
  26.52, 27.28, 27.40, 27.52, 27.64, 27.76, 27.88, 28.00, 28.12, 28.24, 28.36, 28.48, 28.64, 28.79, 28.99,
  29.27, 29.51, 29.79, 30.11, 30.39, 30.71, 31.07, 31.31, 31.58, 31.90, 32.18, 32.50, 32.78, 33.10, 33.46,
  33.78, 34.10, 34.45, 34.69, 35.05, 35.41, 35.69, 36.09, 36.49, 36.77, 37.16, 37.48, 37.76, 38.16, 38.36,
  38.76, 39.16, 39.48, 39.87]
var phaseRedMW = [12.33, 13.97, 15.60, 15.84, 15.92, 16.88, 18.31, 18.51, 19.07, 20.66, 20.94, 22.94, 23.53,
  23.65, 24.61, 24.73, 24.93, 25.09, 26.80, 26.88, 27.04, 27.12, 27.60, 27.72, 28.08, 28.20, 28.80, 29.11,
  29.27, 29.47, 29.59, 29.99, 30.19, 30.31, 30.39, 31.38, 31.46, 31.58, 31.66, 31.74, 31.86, 32.78, 32.90,
  33.18, 33.30, 33.46, 33.58, 33.70, 33.98, 34.10, 34.26, 36.25, 36.89, 37.08, 37.24, 37.44, 37.56, 37.96,
  38.08, 38.24, 38.32, 38.44, 38.56, 38.76, 38.88, 39.36, 39.44, 39.68, 39.84]

var phaseName = "4-Acetimidophen"

// ---------------- drawing ----------------
var svg = d3.select("#chart")
  .append("svg")
    .attr("width", 999)
    .attr("height", 1317)

var panels = [
  {
    id: "rt", title: "Glass RT", obs: obsRT, obs2: obsRT2, peaks: peakPtsRT, calc: calcRT,
    diff: diffRT, diff2: diffRT2, green: phaseGreenRT, red: phaseRedRT, marker: "dot",
    box: {l: 101, r: 985, t: 12, b: 457}, xRange: [101, 983.5], yDomain: [-1.07, 26.92],
    yMajor: [0, 10, 20], yMinor: [5, 15], yTickColor: "#666", tickFont: 12,
    diffBox: {t: 516, b: 612}, rows: [474, 501], labelClip: false,
    titleX: 654, titleY: 122, titleLen: 161,
    yLabelX: 50, yLabelY: 234, yLabelSize: 13, xLabelY: 644, xLabelSize: 13, labelSize: 11.8
  },
  {
    id: "mw", title: "Glass MW_PL_1", obs: obsMW, obs2: obsMW2, peaks: peakPtsMW, calc: calcMW,
    diff: diffMW, diff2: diffMW2, green: phaseGreenMW, red: phaseRedMW, marker: "plus",
    box: {l: 103, r: 981, t: 688, b: 1127}, xRange: [103, 981], yDomain: [1.24, 50.56],
    yMajor: [20, 40], yMinor: [10, 30, 50], yTickColor: "#111", tickFont: 13,
    diffBox: {t: 1188, b: 1278}, rows: [1143, 1171], labelClip: true,
    titleX: 655, titleY: 793, titleLen: 313,
    yLabelX: 54, yLabelY: 907, yLabelSize: 15.5, xLabelY: 1312, xLabelSize: 14, labelSize: 12.5
  }
]

panels.forEach(drawPanel)

// both 2theta grids merged into one sorted series
function merged(a, b) {
  var out = []
  a.forEach(function (v, i) {
    out.push([thetaStart + i * thetaStep, v])
    if (i < b.length) out.push([thetaStart + i * thetaStep + halfStep, b[i]])
  })
  return out
}

function drawPanel(p) {
  var g = svg.append("g")
  var x = d3.scaleLinear().domain([5, 40]).range(p.xRange)
  var y = d3.scaleLinear().domain(p.yDomain).range([p.box.b, p.box.t])
  var yd = d3.scaleLinear().domain([-5, 5]).range([p.diffBox.b, p.diffBox.t])
  var w = p.box.r - p.box.l

  var defs = g.append("defs")
  defs.append("clipPath").attr("id", p.id + "-main")
    .append("rect").attr("x", p.box.l).attr("y", p.box.t).attr("width", w).attr("height", p.box.b - p.box.t)
  defs.append("clipPath").attr("id", p.id + "-diff")
    .append("rect").attr("x", p.box.l).attr("y", p.diffBox.t).attr("width", w).attr("height", p.diffBox.b - p.diffBox.t)
  defs.append("clipPath").attr("id", p.id + "-lab")
    .append("rect").attr("x", 0).attr("y", p.rows[0] - 20).attr("width", p.box.l).attr("height", 60)

  // observed points
  var pts = merged(p.obs, p.obs2).concat(p.peaks)
  var plot = g.append("g").attr("clip-path", "url(#" + p.id + "-main)")
  if (p.marker === "dot") {
    plot.selectAll("circle.obs")
      .data(pts)
      .join("circle")
        .attr("class", "obs")
        .attr("cx", function (d) { return x(d[0]) })
        .attr("cy", function (d) { return y(d[1]) })
        .attr("r", 1.6)
        .attr("fill", "#2a2aff")
  } else {
    plot.selectAll("path.obs")
      .data(pts)
      .join("path")
        .attr("class", "obs")
        .attr("d", function (d) {
          var cx = x(d[0]), cy = y(d[1])
          return "M" + (cx - 2.5) + "," + cy + "h5M" + cx + "," + (cy - 2.5) + "v5"
        })
        .attr("stroke", "#1f1fff")
        .attr("stroke-width", 1.4)
  }

  // calculated profile
  var line = d3.line()
    .x(function (d) { return x(d[0]) })
    .y(function (d) { return y(d[1]) })
    .curve(d3.curveMonotoneX)
  plot.append("path")
    .datum(p.calc)
    .attr("d", line)
    .attr("fill", "none")
    .attr("stroke", "#1a1a1a")
    .attr("stroke-width", 1.3)

  // difference curve
  var dline = d3.line()
    .x(function (d) { return x(d[0]) })
    .y(function (d) { return yd(d[1]) })
  g.append("g").attr("clip-path", "url(#" + p.id + "-diff)")
    .append("path")
      .datum(merged(p.diff, p.diff2))
      .attr("d", dline)
      .attr("fill", "none")
      .attr("stroke", "#000")
      .attr("stroke-width", 1.2)

  // frames
  g.append("rect")
    .attr("x", p.box.l).attr("y", p.box.t).attr("width", w).attr("height", p.box.b - p.box.t)
    .attr("fill", "none").attr("stroke", "#7a7a7a").attr("stroke-width", 1.6)
  g.append("rect")
    .attr("x", p.box.l).attr("y", p.diffBox.t).attr("width", w).attr("height", p.diffBox.b - p.diffBox.t)
    .attr("fill", "none").attr("stroke", "#7a7a7a").attr("stroke-width", 1.6)

  // y axis, ticks pointing inwards
  var yAxis = g.append("g")
    .attr("transform", "translate(" + p.box.l + ",0)")
    .call(d3.axisLeft(y).tickValues(p.yMajor).tickSizeInner(-8).tickSizeOuter(0).tickPadding(4)
      .tickFormat(d3.format(".1f")))
  g.append("g")
    .attr("transform", "translate(" + p.box.l + ",0)")
    .call(d3.axisLeft(y).tickValues(p.yMinor).tickSizeInner(-4).tickSizeOuter(0).tickFormat(""))
    .call(function (s) { s.select(".domain").remove() })
  yAxis.select(".domain").remove()

  // x axis on the difference box
  var xAxis = g.append("g")
    .attr("transform", "translate(0," + p.diffBox.b + ")")
    .call(d3.axisBottom(x).tickValues([10, 20, 30, 40]).tickSizeInner(-8).tickSizeOuter(0).tickPadding(6)
      .tickFormat(d3.format(".1f")))
  g.append("g")
    .attr("transform", "translate(0," + p.diffBox.b + ")")
    .call(d3.axisBottom(x).tickValues([15, 25, 35]).tickSizeInner(-4).tickSizeOuter(0).tickFormat(""))
    .call(function (s) { s.select(".domain").remove() })
  xAxis.select(".domain").remove()

  g.selectAll(".tick line").attr("stroke", "#555")
  g.selectAll(".tick text")
    .attr("font-family", "Liberation Sans, Arial, sans-serif")
    .attr("font-size", p.tickFont)
    .attr("fill", p.yTickColor)

  // reflection markers
  var rows = [{pos: p.green, y: p.rows[0], color: "#2e8a2e"}, {pos: p.red, y: p.rows[1], color: "#ff2a2a"}]
  rows.forEach(function (r) {
    g.append("g").selectAll("line")
      .data(r.pos)
      .join("line")
        .attr("x1", function (d) { return x(d) })
        .attr("x2", function (d) { return x(d) })
        .attr("y1", r.y - 5)
        .attr("y2", r.y + 4)
        .attr("stroke", "#222")
        .attr("stroke-width", 1.5)
    var t = g.append("text")
      .attr("x", 11)
      .attr("y", r.y + 4)
      .attr("font-family", "Liberation Sans, Arial, sans-serif")
      .attr("font-size", p.labelSize)
      .attr("fill", r.color)
      .text(phaseName)
    if (p.labelClip) t.attr("clip-path", "url(#" + p.id + "-lab)")
  })

  // axis titles
  var yl = g.append("text")
    .attr("transform", "translate(" + p.yLabelX + "," + p.yLabelY + ") rotate(-90)")
    .attr("text-anchor", "middle")
    .attr("font-family", "Liberation Serif, Times New Roman, serif")
    .attr("font-weight", "bold")
    .attr("font-size", p.yLabelSize)
    .attr("fill", "#2020ff")
  yl.append("tspan").text("Intensity")
  yl.append("tspan").attr("dy", -p.yLabelSize * 0.4).attr("font-size", p.yLabelSize * 0.75).text("1/2")
  yl.append("tspan").attr("dy", p.yLabelSize * 0.4).text(" [Count")
  yl.append("tspan").attr("dy", -p.yLabelSize * 0.4).attr("font-size", p.yLabelSize * 0.75).text("1/2")
  yl.append("tspan").attr("dy", p.yLabelSize * 0.4).text("]")

  g.append("text")
    .attr("x", 542)
    .attr("y", p.xLabelY)
    .attr("text-anchor", "middle")
    .attr("font-family", "Liberation Serif, Times New Roman, serif")
    .attr("font-weight", "bold")
    .attr("font-size", p.xLabelSize)
    .attr("fill", "#2020ff")
    .text("2-Theta [degrees]")

  // panel title
  g.append("text")
    .attr("x", p.titleX)
    .attr("y", p.titleY)
    .attr("font-family", "Lato, Open Sans, sans-serif")
    .attr("font-size", 44)
    .attr("fill", "#000")
    .attr("textLength", p.titleLen)
    .attr("lengthAdjust", "spacingAndGlyphs")
    .text(p.title)
}
</script>
</body>
</html>
